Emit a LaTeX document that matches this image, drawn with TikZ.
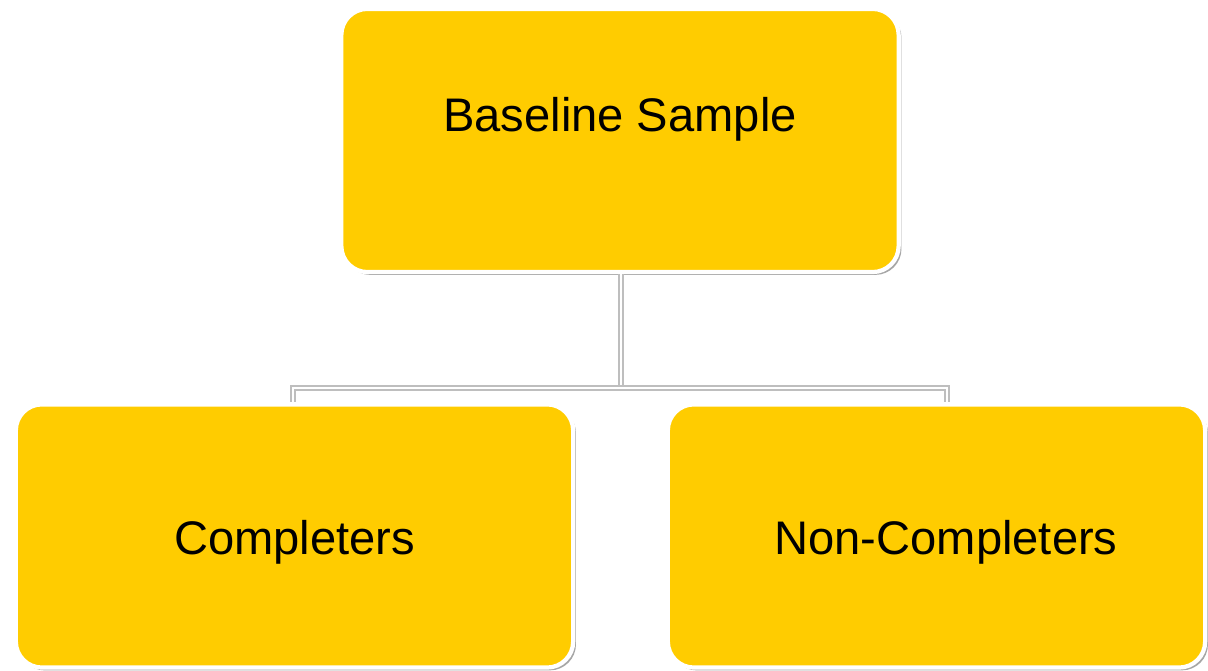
\documentclass[tikz,border=0pt]{standalone}
\usepackage{fontspec}
\setmainfont{Liberation Sans}
\usetikzlibrary{shadows, positioning}
\definecolor{smyellow}{RGB}{255,204,0}
\definecolor{smline}{RGB}{190,190,190}

\begin{document}
\begin{tikzpicture}[x=0.01cm, y=-0.01cm,
  box/.style={rectangle, rounded corners=0.26cm, draw=white, line width=1.2pt, fill=smyellow,
    minimum width=5.57cm, minimum height=2.63cm, align=center, font=\fontsize{13.4}{16}\selectfont,
    drop shadow={shadow xshift=0.8pt, shadow yshift=-0.8pt, fill=black, opacity=0.35}},
  kid/.style={box, text height=0.47cm},
  conn/.style={draw=smline, double=white, double distance=0.5pt, line width=0.6pt}
]
\useasboundingbox (0,0) rectangle (1208,671);
\node[box, text depth=0.52cm] (base) at (620,140.5) {Baseline Sample};
\node[kid] (comp) at (294.5,536) {Completers};
\node[kid, minimum width=5.37cm] (noncomp) at (936.5,536) {\hspace*{0.19cm}Non-Completers};
\coordinate (split) at (621,388);
\draw[conn] (base.south -| split) -- (split);
\draw[conn] (split) -| ([xshift=-0.015cm]comp.north);
\draw[conn] (split) -| ([xshift=0.105cm]noncomp.north);
\end{tikzpicture}
\end{document}
